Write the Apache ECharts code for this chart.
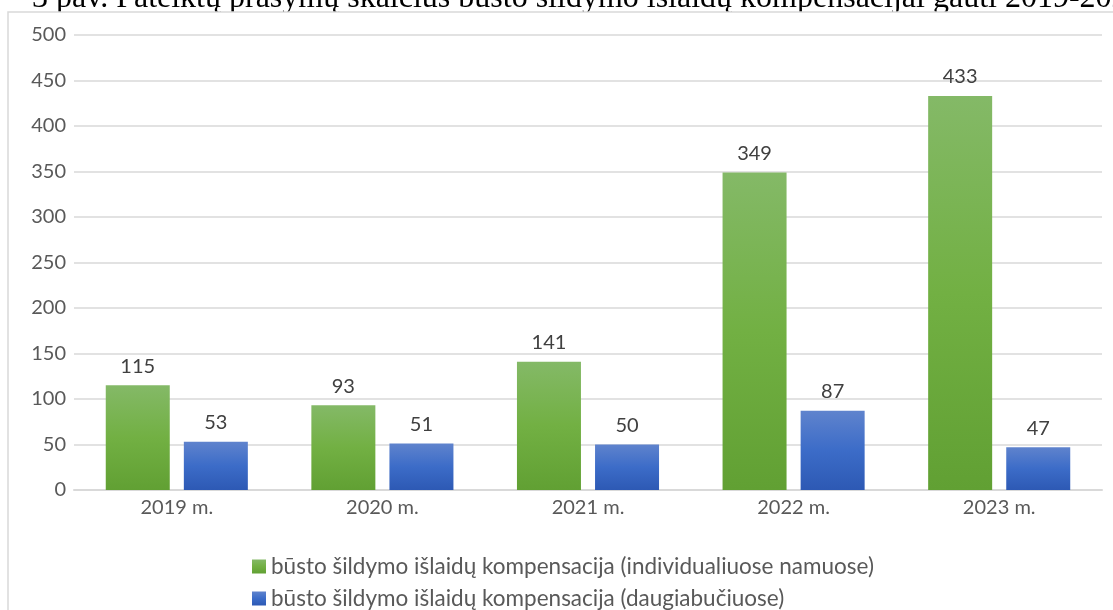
<!DOCTYPE html>
<html>
<head>
<meta charset="utf-8">
<script src="https://cdn.jsdelivr.net/npm/echarts@6/dist/echarts.min.js"></script>
<style>
html,body{margin:0;padding:0;background:#fff;}
#chart{width:1113px;height:610px;}
</style>
</head>
<body>
<div id="chart"></div>
<script>
var titleText = '3 pav. Pateiktų prašymų skaičius būsto šildymo išlaidų kompensacijai gauti 2019-2023 m.';
var categories = ['2019 m.', '2020 m.', '2021 m.', '2022 m.', '2023 m.'];
var seriesNames = [
  'būsto šildymo išlaidų kompensacija (individualiuose namuose)',
  'būsto šildymo išlaidų kompensacija (daugiabučiuose)'
];
var individualValues = [115, 93, 141, 349, 433];
var apartmentValues = [53, 51, 50, 87, 47];

var chart = echarts.init(document.getElementById('chart'), null, {renderer: 'canvas'});
var font = 'Lato, "Open Sans", sans-serif';

function grad(c1, c2, c3) {
  return new echarts.graphic.LinearGradient(0, 0, 0, 1, [
    {offset: 0, color: c1}, {offset: 0.5, color: c2}, {offset: 1, color: c3}
  ]);
}

function legendFor(name, top) {
  return {
    orient: 'horizontal',
    left: 252, top: top, padding: 0,
    itemWidth: 14, itemHeight: 14,
    icon: 'rect',
    textStyle: {color: '#595959', fontFamily: font, fontSize: 22.5},
    data: [name]
  };
}

chart.setOption({
  animation: false,
  backgroundColor: '#fff',
  graphic: [
    {
      type: 'text', silent: true, z: -2,
      x: 32, y: -17,
      style: {
        text: titleText,
        font: '32px "Liberation Serif", "DejaVu Serif", serif',
        fill: '#000',
        verticalAlign: 'top',
        align: 'left'
      }
    },
    {
      type: 'rect', silent: true, z: -1,
      shape: {x: 8, y: 12, width: 1200, height: 700},
      style: {fill: '#fff', stroke: '#d9d9d9', lineWidth: 1.5}
    }
  ],
  grid: {left: 74, right: 11, top: 35, bottom: 120, containLabel: false},
  xAxis: {
    type: 'category',
    data: categories,
    axisLine: {lineStyle: {color: '#d9d9d9', width: 2}},
    axisTick: {show: false},
    axisLabel: {color: '#595959', fontFamily: font, fontSize: 20, margin: 8}
  },
  yAxis: {
    type: 'value',
    min: 0, max: 500, interval: 50,
    axisLine: {show: false},
    axisTick: {show: false},
    splitLine: {lineStyle: {color: '#d9d9d9', width: 1.5}},
    axisLabel: {color: '#595959', fontFamily: font, fontSize: 20, margin: 8}
  },
  legend: [
    legendFor(seriesNames[0], 555),
    legendFor(seriesNames[1], 587)
  ],
  series: [
    {
      name: seriesNames[0], type: 'bar', data: individualValues,
      barWidth: 64, barGap: '22%',
      itemStyle: {color: grad('#84b967', '#72b043', '#61a033')},
      label: {show: true, position: 'top', distance: 9, color: '#404040', fontFamily: font, fontSize: 20}
    },
    {
      name: seriesNames[1], type: 'bar', data: apartmentValues,
      barWidth: 64, barGap: '22%',
      itemStyle: {color: grad('#5f83cd', '#3c6cc8', '#2d59b4')},
      label: {show: true, position: 'top', distance: 9, color: '#404040', fontFamily: font, fontSize: 20}
    }
  ]
});
</script>
</body>
</html>
